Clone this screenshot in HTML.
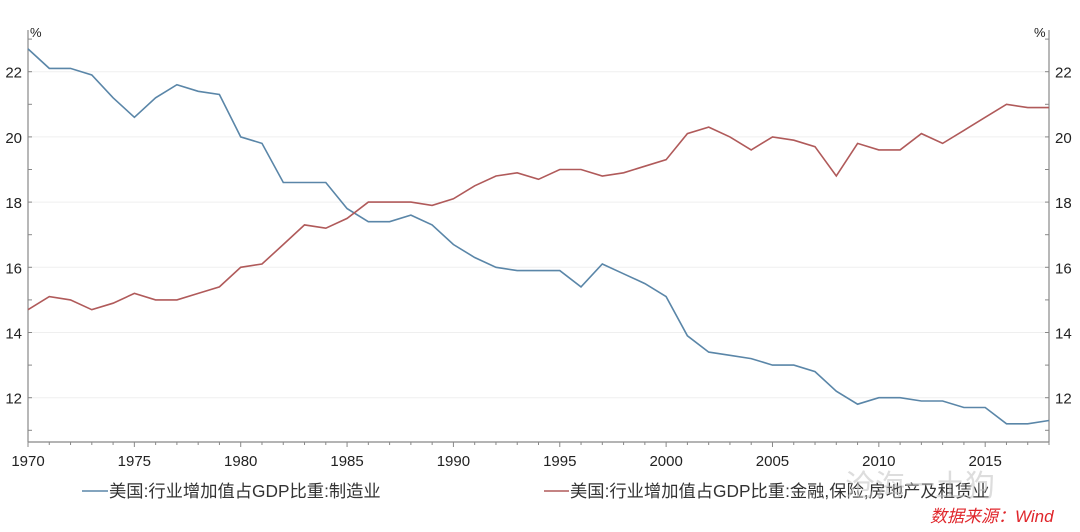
<!DOCTYPE html>
<html><head><meta charset="utf-8"><style>
body{margin:0;background:#fff;width:1080px;height:527px;overflow:hidden}
svg text{font-family:"Liberation Sans","Noto Sans CJK SC",sans-serif}
</style></head><body>
<svg id="chart" width="1080" height="527" viewBox="0 0 1080 527">
<g id="grid"></g>
<g id="axes"></g>
<g id="series"></g>
<text x="30" y="37" font-size="13" fill="#222">%</text>
<text x="1034" y="37" font-size="13" fill="#222">%</text>
<g>
<line x1="82" y1="491" x2="108" y2="491" stroke="#5a86a8" stroke-width="1.5"/>
<text x="109" y="497" font-size="17.3" fill="#333">美国:行业增加值占GDP比重:制造业</text></g>
<g>
<line x1="544" y1="491" x2="569" y2="491" stroke="#b05a5a" stroke-width="1.5"/>
<text x="570" y="497" font-size="17.3" fill="#333">美国:行业增加值占GDP比重:金融,保险,房地产及租赁业</text></g>
<text x="845" y="496" font-size="30" fill="#bbb" fill-opacity="0.5">沧海一土狗</text>
<text x="930" y="522" font-size="17" fill="#e0262b" font-style="italic">数据来源：Wind</text>
</svg>
<script>
const years=[];for(let y=1970;y<=2018;y++)years.push(y);
const manufacturing=[22.7,22.1,22.1,21.9,21.2,20.6,21.2,21.6,21.4,21.3,20.0,19.8,18.6,18.6,18.6,17.8,17.4,17.4,17.6,17.3,16.7,16.3,16.0,15.9,15.9,15.9,15.4,16.1,15.8,15.5,15.1,13.9,13.4,13.3,13.2,13.0,13.0,12.8,12.2,11.8,12.0,12.0,11.9,11.9,11.7,11.7,11.2,11.2,11.3];
const finance=[14.7,15.1,15.0,14.7,14.9,15.2,15.0,15.0,15.2,15.4,16.0,16.1,16.7,17.3,17.2,17.5,18.0,18.0,18.0,17.9,18.1,18.5,18.8,18.9,18.7,19.0,19.0,18.8,18.9,19.1,19.3,20.1,20.3,20.0,19.6,20.0,19.9,19.7,18.8,19.8,19.6,19.6,20.1,19.8,20.2,20.6,21.0,20.9,20.9];
const yTicks=[12,14,16,18,20,22];
const xTicks=[1970,1975,1980,1985,1990,1995,2000,2005,2010,2015];
const NS="http://www.w3.org/2000/svg";
const L=28,R=1049,B=442,T=30;
const x=v=>L+(v-1970)*(R-L)/48;
const y=v=>397.7-(v-12)*32.6;
function mk(tag,attrs,parent,txt){const e=document.createElementNS(NS,tag);for(const k in attrs)e.setAttribute(k,attrs[k]);if(txt!==undefined)e.textContent=txt;parent.appendChild(e);return e;}
const grid=document.getElementById('grid'),axes=document.getElementById('axes'),ser=document.getElementById('series');
yTicks.forEach(t=>{
 const g=mk('line',{x1:L,x2:R,y1:y(t),y2:y(t),stroke:'#efefef','stroke-width':1},grid);
 
 
 const a=mk('text',{x:L-6,y:y(t)+6,'font-size':15,'text-anchor':'end',fill:'#222'},axes,t);
 
 
 const b=mk('text',{x:R+6,y:y(t)+6,'font-size':15,fill:'#222'},axes,t);
 
 
});
for(let v=11;v<=23;v++){mk('line',{x1:L,x2:L+4,y1:y(v),y2:y(v),stroke:'#888'},axes);mk('line',{x1:R-4,x2:R,y1:y(v),y2:y(v),stroke:'#888'},axes);}
mk('line',{x1:L,x2:L,y1:T,y2:B,stroke:'#888','stroke-width':1.2},axes);
mk('line',{x1:R,x2:R,y1:T,y2:B,stroke:'#888','stroke-width':1.2},axes);
mk('line',{x1:L,x2:R,y1:B,y2:B,stroke:'#888','stroke-width':1.2},axes);
years.forEach(yr=>mk('line',{x1:x(yr),x2:x(yr),y1:B,y2:B+(yr%5===0?5:3),stroke:'#888'},axes));
xTicks.forEach(t=>{const e=mk('text',{x:x(t),y:466,'font-size':15,'text-anchor':'middle',fill:'#222'},axes,t);
 
 });
function line(vals,color,name){const d=vals.map((v,i)=>(i?'L':'M')+x(years[i]).toFixed(1)+','+y(v).toFixed(1)).join('');
 const p=mk('path',{d:d,fill:'none',stroke:color,'stroke-width':1.6},ser);
 
 }
line(manufacturing,'#5a86a8','manufacturing-line');
line(finance,'#b05a5a','finance-line');
</script>
</body></html>
